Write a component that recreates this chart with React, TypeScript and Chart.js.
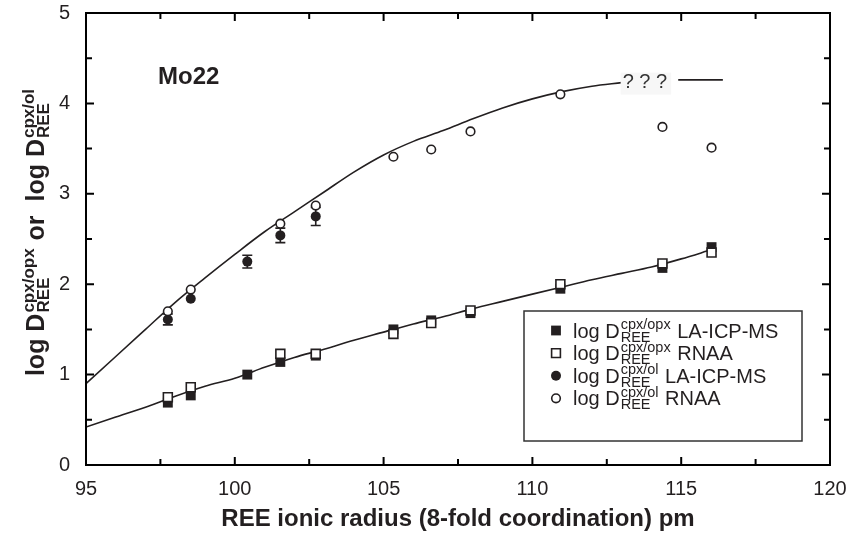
import React, { useEffect, useRef } from 'react';
import { Chart, registerables } from 'chart.js';
Chart.register(...registerables);

const FONT = '"Liberation Sans", Arial, Helvetica, sans-serif';
const INK = '#231f20';

// Axis ticks
const xMajorTicks = [95, 100, 105, 110, 115, 120];
const xMinorTicks = [97.5, 102.5, 107.5, 112.5, 117.5];
const yMajorTicks = [0, 1, 2, 3, 4, 5];
const yMinorTicks = [0.5, 1.5, 2.5, 3.5, 4.5];

// cpx/opx, LA-ICP-MS (filled squares)
const opxLaX = [97.75, 98.52, 100.42, 101.53, 102.72, 105.33, 106.6, 107.92, 110.94, 114.37, 116.02];
const opxLaY = [0.69, 0.77, 1.0, 1.14, 1.21, 1.5, 1.6, 1.68, 1.95, 2.18, 2.41];

// cpx/opx, RNAA (open squares)
const opxRnX = [97.75, 98.52, 101.53, 102.72, 105.33, 106.6, 107.92, 110.94, 114.37, 116.02];
const opxRnY = [0.75, 0.86, 1.23, 1.23, 1.45, 1.57, 1.71, 2.0, 2.23, 2.35];

// cpx/ol, LA-ICP-MS (filled circles) with error
const olLaX = [97.75, 98.52, 100.42, 101.53, 102.72];
const olLaY = [1.61, 1.84, 2.25, 2.54, 2.75];
const olLaErr = [0.06, 0.0, 0.07, 0.08, 0.1];

// cpx/ol, RNAA (open circles)
const olRnX = [97.75, 98.52, 101.53, 102.72, 105.33, 106.6, 107.92, 110.94, 114.37, 116.02];
const olRnY = [1.7, 1.94, 2.67, 2.87, 3.41, 3.49, 3.69, 4.1, 3.74, 3.51];

// fitted curve cpx/ol
const olFitX = [95, 96, 97, 98, 99, 100, 101, 102, 103, 104, 105, 106, 107, 108, 109, 110, 111, 112, 113];
const olFitY = [0.9, 1.2, 1.5, 1.8, 2.07, 2.33, 2.58, 2.8, 3.02, 3.24, 3.43, 3.58, 3.7, 3.83, 3.95, 4.05, 4.13, 4.19, 4.23];

// continuation segment after "? ? ?"
const olTailX = [114.9, 116.4];
const olTailY = [4.26, 4.26];

// fitted curve cpx/opx
const opxFitX = [95, 96, 97, 98, 99, 100, 101, 102, 103, 104, 105, 106, 107, 108, 109, 110, 111, 112, 113, 114, 115, 116];
const opxFitY = [0.42, 0.53, 0.64, 0.76, 0.87, 0.96, 1.08, 1.19, 1.28, 1.38, 1.47, 1.56, 1.64, 1.73, 1.81, 1.89, 1.97, 2.05, 2.12, 2.19, 2.28, 2.38];

const sampleLabel = 'Mo22';
const sampleLabelPos = [97.42, 4.21];
const questionLabel = '? ? ?';
const questionLabelPos = [113.78, 4.23];

const legendItems = [
  { sup: 'cpx/opx', tail: ' LA-ICP-MS', style: 'rect', filled: true },
  { sup: 'cpx/opx', tail: ' RNAA', style: 'rect', filled: false },
  { sup: 'cpx/ol', tail: ' LA-ICP-MS', style: 'circle', filled: true },
  { sup: 'cpx/ol', tail: ' RNAA', style: 'circle', filled: false },
];

const xTitle = 'REE ionic radius (8-fold coordination) pm';

const zip = (xs: number[], ys: number[]) => xs.map((x, i) => ({ x, y: ys[i] }));

type Part = { t?: string; sup?: string; sub?: string };

function drawRich(ctx: CanvasRenderingContext2D, x: number, y: number, parts: Part[], mainSize: number, subSize: number, weight: string, draw = true) {
  let cx = x;
  for (const p of parts) {
    if (p.t !== undefined) {
      ctx.font = `${weight} ${mainSize}px ${FONT}`;
      if (draw) ctx.fillText(p.t, cx, y);
      cx += ctx.measureText(p.t).width;
    } else {
      ctx.font = `${weight} ${subSize}px ${FONT}`;
      const w1 = ctx.measureText(p.sup || '').width;
      const w2 = ctx.measureText(p.sub || '').width;
      if (draw) {
        ctx.fillText(p.sup || '', cx + 1, y - mainSize * 0.42);
        ctx.fillText(p.sub || '', cx + 1, y + subSize * 0.28);
      }
      cx += Math.max(w1, w2) + 2;
    }
  }
  return cx - x;
}

function drawMarker(ctx: CanvasRenderingContext2D, style: string, filled: boolean, x: number, y: number) {
  ctx.save();
  ctx.lineWidth = 1.6;
  ctx.strokeStyle = INK;
  ctx.fillStyle = filled ? INK : '#ffffff';
  ctx.beginPath();
  if (style === 'rect') {
    const h = filled ? 4.9 : 4.4;
    ctx.rect(x - h, y - h, 2 * h, 2 * h);
  } else {
    ctx.arc(x, y, filled ? 5 : 4.3, 0, Math.PI * 2);
  }
  ctx.fill();
  if (!filled) ctx.stroke();
  ctx.restore();
}

const decorPlugin = {
  id: 'decor',
  beforeDatasetsDraw(chart: any) {
    const { ctx } = chart;
    const xs = chart.scales.x;
    const ys = chart.scales.y;
    ctx.save();
    ctx.strokeStyle = INK;
    ctx.lineWidth = 1.6;
    olLaX.forEach((xv, i) => {
      const e = olLaErr[i];
      if (!e) return;
      const px = xs.getPixelForValue(xv);
      const y1 = ys.getPixelForValue(olLaY[i] - e);
      const y2 = ys.getPixelForValue(olLaY[i] + e);
      ctx.beginPath();
      ctx.moveTo(px, y1); ctx.lineTo(px, y2);
      ctx.moveTo(px - 5, y1); ctx.lineTo(px + 5, y1);
      ctx.moveTo(px - 5, y2); ctx.lineTo(px + 5, y2);
      ctx.stroke();
    });
    ctx.restore();
  },
  afterDraw(chart: any) {
    const { ctx, chartArea: a } = chart;
    const xs = chart.scales.x;
    const ys = chart.scales.y;
    ctx.save();
    ctx.strokeStyle = '#000';
    ctx.lineWidth = 2;
    ctx.strokeRect(a.left, a.top, a.right - a.left, a.bottom - a.top);
    ctx.beginPath();
    const tickX = (v: number, len: number) => {
      const p = xs.getPixelForValue(v);
      ctx.moveTo(p, a.bottom); ctx.lineTo(p, a.bottom - len);
      ctx.moveTo(p, a.top); ctx.lineTo(p, a.top + len);
    };
    const tickY = (v: number, len: number) => {
      const p = ys.getPixelForValue(v);
      ctx.moveTo(a.left, p); ctx.lineTo(a.left + len, p);
      ctx.moveTo(a.right, p); ctx.lineTo(a.right - len, p);
    };
    xMajorTicks.forEach(v => tickX(v, 8));
    xMinorTicks.forEach(v => tickX(v, 6));
    yMajorTicks.forEach(v => tickY(v, 8));
    yMinorTicks.forEach(v => tickY(v, 6));
    ctx.stroke();

    ctx.fillStyle = INK;
    ctx.font = `bold 24px ${FONT}`;
    ctx.textBaseline = 'alphabetic';
    ctx.textAlign = 'left';
    ctx.fillText(sampleLabel, xs.getPixelForValue(sampleLabelPos[0]), ys.getPixelForValue(sampleLabelPos[1]));

    ctx.font = `20px ${FONT}`;
    const qx = xs.getPixelForValue(questionLabelPos[0]);
    const qy = ys.getPixelForValue(questionLabelPos[1]);
    const qw = ctx.measureText(questionLabel).width;
    ctx.fillStyle = '#f7f7f7';
    ctx.fillRect(qx - qw / 2 - 2, qy - 10, qw + 6, 22);
    ctx.fillStyle = '#333333';
    ctx.textAlign = 'center';
    ctx.textBaseline = 'middle';
    ctx.fillText(questionLabel, qx, qy);

    const lx = 524, ly = 311, lw = 278, lh = 130;
    ctx.fillStyle = '#ffffff';
    ctx.fillRect(lx, ly, lw, lh);
    ctx.strokeStyle = '#333333';
    ctx.lineWidth = 1.5;
    ctx.strokeRect(lx, ly, lw, lh);
    ctx.textAlign = 'left';
    ctx.textBaseline = 'alphabetic';
    legendItems.forEach((it, i) => {
      const cy = 330.5 + i * 22.6;
      drawMarker(ctx, it.style, it.filled, 556, cy);
      ctx.fillStyle = INK;
      drawRich(ctx, 573, cy + 7, [{ t: 'log D' }, { sup: it.sup, sub: 'REE' }, { t: it.tail }], 20, 14.5, 'normal');
    });

    ctx.fillStyle = INK;
    ctx.font = `bold 24px ${FONT}`;
    ctx.textAlign = 'center';
    ctx.textBaseline = 'alphabetic';
    ctx.fillText(xTitle, (a.left + a.right) / 2, 526);

    ctx.textAlign = 'left';
    const parts: Part[] = [{ t: 'log D' }, { sup: 'cpx/opx', sub: 'REE' }, { t: ' or  log D' }, { sup: 'cpx/ol', sub: 'REE' }];
    const w = drawRich(ctx, 0, 0, parts, 25, 17, 'bold', false);
    ctx.translate(44, 232);
    ctx.rotate(-Math.PI / 2);
    drawRich(ctx, -w / 2, 0, parts, 25, 17, 'bold', true);
    ctx.restore();
  },
};

export default function App() {
  const ref = useRef<HTMLCanvasElement>(null);
  useEffect(() => {
    if (!ref.current) return;
    const lineDs = (data: any[], order: number) => ({
      type: 'line' as const,
      data,
      borderColor: INK,
      borderWidth: 1.6,
      pointRadius: 0,
      cubicInterpolationMode: 'monotone' as const,
      fill: false,
      order,
    });
    const chart = new Chart(ref.current, {
      type: 'scatter',
      data: {
        datasets: [
          lineDs(zip(olFitX, olFitY), 5),
          lineDs(zip(olTailX, olTailY), 5),
          lineDs(zip(opxFitX, opxFitY), 5),
          {
            data: zip(opxLaX, opxLaY), pointStyle: 'rect', pointRadius: 7, borderWidth: 0,
            backgroundColor: INK, borderColor: INK, order: 2,
          },
          {
            data: zip(olLaX, olLaY), pointStyle: 'circle', pointRadius: 5, borderWidth: 0,
            backgroundColor: INK, borderColor: INK, order: 2,
          },
          {
            data: zip(opxRnX, opxRnY), pointStyle: 'rect', pointRadius: 6.3, borderWidth: 1.6,
            backgroundColor: '#ffffff', borderColor: INK, order: 1,
          },
          {
            data: zip(olRnX, olRnY), pointStyle: 'circle', pointRadius: 4.3, borderWidth: 1.6,
            backgroundColor: '#ffffff', borderColor: INK, order: 1,
          },
        ] as any,
      },
      options: {
        animation: false,
        responsive: false,
        maintainAspectRatio: false,
        events: [],
        layout: { padding: { left: 0, right: 20, top: 13, bottom: 0 } },
        plugins: { legend: { display: false }, tooltip: { enabled: false } },
        scales: {
          x: {
            type: 'linear', min: 95, max: 120,
            afterBuildTicks: (s: any) => { s.ticks = xMajorTicks.map(v => ({ value: v })); },
            afterFit: (s: any) => { s.height = 69; s.paddingLeft = 0; s.paddingRight = 0; },
            grid: { display: false, drawTicks: false },
            border: { display: false },
            ticks: { padding: 12, color: INK, font: { size: 20, family: FONT }, maxRotation: 0, autoSkip: false },
          },
          y: {
            type: 'linear', min: 0, max: 5,
            afterBuildTicks: (s: any) => { s.ticks = yMajorTicks.map(v => ({ value: v })); },
            afterFit: (s: any) => { s.width = 86; s.paddingTop = 0; s.paddingBottom = 0; },
            grid: { display: false, drawTicks: false },
            border: { display: false },
            ticks: { padding: 16, color: INK, font: { size: 20, family: FONT }, autoSkip: false },
          },
        },
      },
      plugins: [decorPlugin],
    });
    return () => chart.destroy();
  }, []);
  return (
    <div style={{ position: 'fixed', left: 0, top: 0, width: 850, height: 534, background: '#fff' }}>
      <canvas ref={ref} width={850} height={534} style={{ display: 'block' }} />
    </div>
  );
}
